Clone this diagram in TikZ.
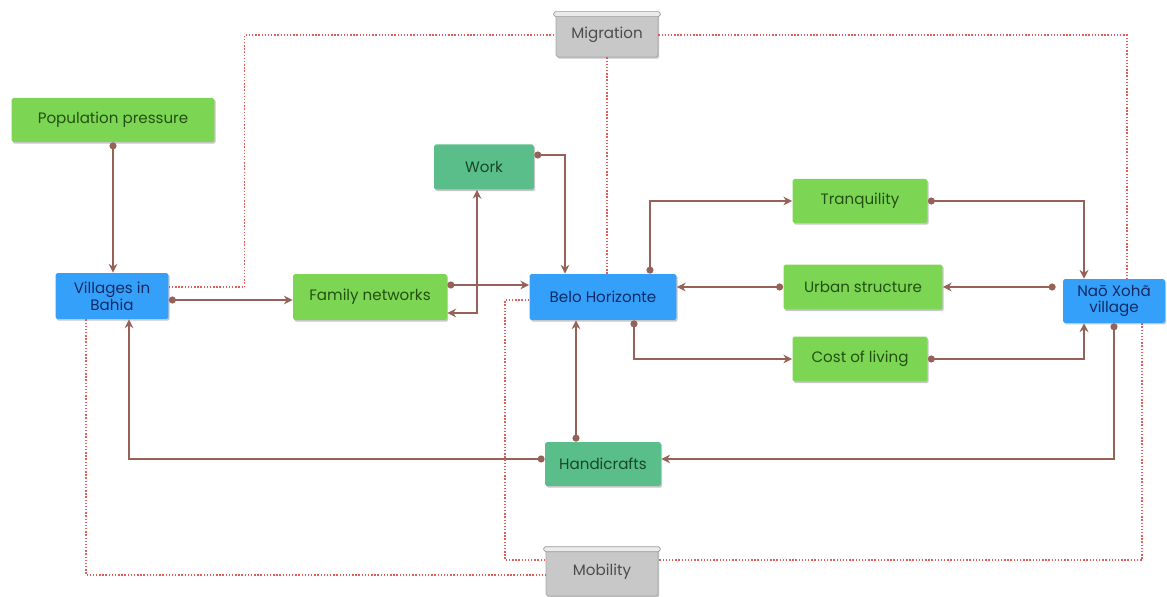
\documentclass[tikz,border=0pt]{standalone}
\usepackage{fontspec}
\setmainfont{Poppins}
\usetikzlibrary{arrows.meta,calc,shadows}
\definecolor{boxgreen}{RGB}{124,214,84}
\definecolor{boxteal}{RGB}{90,190,138}
\definecolor{boxblue}{RGB}{52,160,250}
\definecolor{boxgray}{RGB}{200,200,200}
\definecolor{txtgreen}{RGB}{34,80,18}
\definecolor{txtteal}{RGB}{24,70,42}
\definecolor{txtblue}{RGB}{16,42,100}
\definecolor{linkbrown}{RGB}{150,98,88}
\definecolor{relred}{RGB}{226,92,92}
\tikzstyle{box} = [rectangle, rounded corners=1pt, align=center, font=\fontsize{8.6}{9.6}\selectfont, drop shadow={shadow xshift=0.7pt, shadow yshift=-0.9pt, opacity=0.45}]
\tikzstyle{factor} = [box, fill=boxgreen, text=txtgreen]
\tikzstyle{activity} = [box, fill=boxteal, text=txtteal]
\tikzstyle{place} = [box, fill=boxblue, text=txtblue]
\tikzstyle{flow} = [box, fill=boxgray, text=black!70, draw=black!35]
\tikzstyle{link} = [line width=0.9pt, draw=linkbrown, {Circle[length=4pt]}-{Stealth[length=5pt,width=5pt]}]
\tikzstyle{twoway} = [line width=0.9pt, draw=linkbrown, {Stealth[length=5pt,width=5pt]}-{Stealth[length=5pt,width=5pt]}]
\tikzstyle{rel} = [line width=0.8pt, draw=relred, densely dotted]

\begin{document}
\begin{tikzpicture}[x=0.02cm, y=-0.02cm]
    \useasboundingbox (0,0) rectangle (1167,597);
    \node (pop) [factor, minimum width=4.06cm, minimum height=0.88cm] at (113,120) {Population pressure};
    \node (vil) [place, minimum width=2.26cm, minimum height=0.92cm] at (112,296) {Villages in\\Bahia};
    \node (fam) [factor, minimum width=3.08cm, minimum height=0.92cm] at (370,297) {Family networks};
    \node (work) [activity, minimum width=2cm, minimum height=0.9cm] at (484,167) {Work};
    \node (belo) [place, minimum width=2.94cm, minimum height=0.92cm] at (603,297) {Belo Horizonte};
    \node (tranq) [factor, minimum width=2.7cm, minimum height=0.88cm] at (860,201) {Tranquility};
    \node (urban) [factor, minimum width=3.18cm, minimum height=0.9cm] at (863,287) {Urban structure};
    \node (cost) [factor, minimum width=2.7cm, minimum height=0.9cm] at (860,359) {Cost of living};
    \node (nao) [place, minimum width=2.04cm, minimum height=0.84cm] at (1114,301) {Naō Xohã\\village};
    \node (hand) [activity, minimum width=2.32cm, minimum height=0.88cm] at (603,464) {Handicrafts};
    \node (mig) [flow, minimum width=2.04cm, minimum height=0.88cm] at (607,35) {Migration};
    \node (mob) [flow, minimum width=2.24cm, minimum height=0.96cm] at (602,572) {Mobility};

    % scroll tops
    \draw[draw=black!40, fill=black!8, rounded corners=1pt] ($(mig.north west)+(-2,-1)$) rectangle ($(mig.north east)+(2,4)$);
    \draw[draw=black!40, fill=black!8, rounded corners=1pt] ($(mob.north west)+(-2,-1)$) rectangle ($(mob.north east)+(2,4)$);

    % brown links
    \draw[link] (pop.south) -- (pop.south |- vil.north);
    \draw[link] ($(vil.east)+(0,4)$) -- ($(fam.west)+(0,3)$);
    \draw[link] ($(fam.east)+(0,-12)$) -- ($(belo.west)+(0,-12)$);
    \draw[twoway] ($(fam.east)+(0,16)$) -| ($(work.south)+(-7,0)$);
    \draw[link] ($(work.east)+(0,-12)$) -| ($(belo.north)+(-38,0)$);
    \draw[link] ($(belo.north)+(47,0)$) |- (tranq.west);
    \draw[link] (urban.west) -- ($(belo.east)+(0,-10)$);
    \draw[link] ($(belo.south)+(31,0)$) |- (cost.west);
    \draw[link] (tranq.east) -| ($(nao.north)+(-30,0)$);
    \draw[link] ($(nao.west)+(-7,-14)$) -- (urban.east);
    \draw[link] (cost.east) -| ($(nao.south)+(-30,0)$);
    \draw[link] ($(hand.north)+(-27,0)$) -- ($(belo.south)+(-27,0)$);
    \draw[link] ($(hand.west)+(0,-5)$) -| ($(vil.south)+(17,0)$);
    \draw[link] (nao.south) |- ($(hand.east)+(0,-5)$);

    % red dotted relations
    \draw[rel] ($(vil.east)+(0,-9)$) -| ($(mig.west)+(-311,0)$) -- (mig.west);
    \draw[rel] (mig.east) -| ($(nao.north)+(13,0)$);
    \draw[rel] (mig.south) -- (mig.south |- belo.north);
    \draw[rel] ($(belo.west)+(0,3)$) -- ++(-24,0) |- ($(mob.west)+(0,-12)$);
    \draw[rel] ($(vil.south)+(-26,0)$) |- ($(mob.west)+(0,3)$);
    \draw[rel] ($(nao.south)+(28,0)$) |- ($(mob.east)+(0,-12)$);
\end{tikzpicture}
\end{document}
